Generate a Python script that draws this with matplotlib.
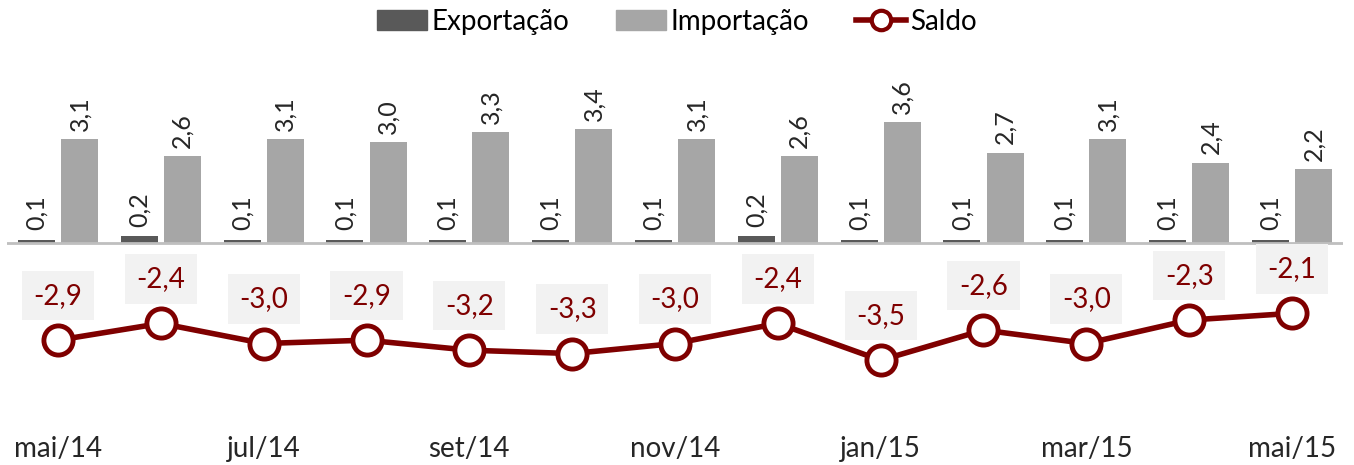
import numpy as np
import matplotlib.pyplot as plt
from matplotlib.lines import Line2D
from matplotlib.patches import Patch

plt.rcParams['font.family'] = ['Lato', 'DejaVu Sans']

meses = ["mai/14", "jun/14", "jul/14", "ago/14", "set/14", "out/14", "nov/14",
         "dez/14", "jan/15", "fev/15", "mar/15", "abr/15", "mai/15"]
exportacao = [0.1, 0.2, 0.1, 0.1, 0.1, 0.1, 0.1, 0.2, 0.1, 0.1, 0.1, 0.1, 0.1]
importacao = [3.1, 2.6, 3.1, 3.0, 3.3, 3.4, 3.1, 2.6, 3.6, 2.7, 3.1, 2.4, 2.2]
saldo = [-2.9, -2.4, -3.0, -2.9, -3.2, -3.3, -3.0, -2.4, -3.5, -2.6, -3.0, -2.3, -2.1]

c_exp = '#595959'
c_imp = '#a6a6a6'
c_sal = '#7f0000'


def fmt(v):
    return ("%.1f" % v).replace('.', ',')


fig = plt.figure(figsize=(13.54, 4.65), dpi=100)
ax = fig.add_axes([6.6 / 1354, 35 / 465, 1336.8 / 1354, 360 / 465])

x = np.arange(len(meses))
ax.set_xlim(-0.5, len(meses) - 0.5)
ax.set_ylim(-(430 - 243) / 33.5, (243 - 70) / 33.5)

w = 0.36
ax.bar(x - 0.21, exportacao, w, color=c_exp, zorder=2)
ax.bar(x + 0.21, importacao, w, color=c_imp, zorder=2)
ax.axhline(0, color='#bfbfbf', lw=2, zorder=3)

for i in range(len(meses)):
    ax.annotate(fmt(exportacao[i]), (x[i] - 0.21, exportacao[i]),
                xytext=(0, 7), textcoords='offset points', rotation=90,
                ha='center', va='bottom', fontsize=18, color='#262626')
    ax.annotate(fmt(importacao[i]), (x[i] + 0.21, importacao[i]),
                xytext=(0, 6), textcoords='offset points', rotation=90,
                ha='center', va='bottom', fontsize=18, color='#262626')

ax.plot(x, saldo, color=c_sal, lw=4, marker='o', ms=21, mfc='white',
        mec=c_sal, mew=3.5, zorder=5, clip_on=False)
for i in range(len(meses)):
    ax.annotate(fmt(saldo[i]), (x[i], saldo[i]), xytext=(0, 32),
                textcoords='offset points', ha='center', va='center',
                fontsize=20, color=c_sal,
                bbox=dict(boxstyle='square,pad=0.42', fc='#f2f2f2', ec='none'))

ax.set_xticks(x[::2])
ax.set_xticklabels(meses[::2], fontsize=20, color='#262626')
ax.tick_params(axis='x', length=0, pad=4)
ax.set_yticks([])
for s in ax.spines.values():
    s.set_visible(False)

handles = [Patch(color=c_exp, label='Exportação'),
           Patch(color=c_imp, label='Importação'),
           Line2D([], [], color=c_sal, lw=4, marker='o', ms=14, mfc='white',
                  mec=c_sal, mew=3, label='Saldo')]
fig.legend(handles=handles, loc='upper center', bbox_to_anchor=(0.5, 1.035),
           ncol=3, frameon=False, fontsize=20, handlelength=1.8,
           handleheight=0.7, handletextpad=0.15, columnspacing=1.7)

fig.savefig('out.png', dpi=100)
